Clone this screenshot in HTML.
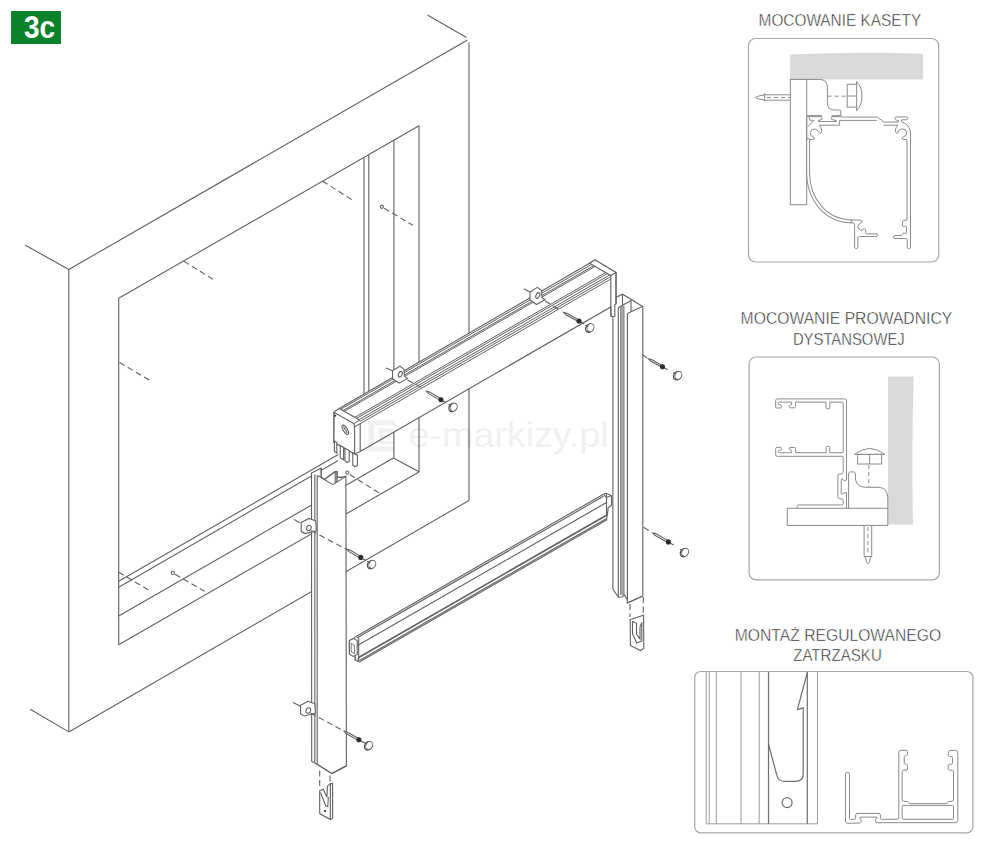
<!DOCTYPE html>
<html><head><meta charset="utf-8"><title>3c</title><style>
html,body{margin:0;padding:0;background:#fff;}
svg{display:block;}
.ln line,.ln polyline,.ln polygon,.ln path,.ln circle,.ln ellipse{stroke:#606060;stroke-width:1.1;fill:none;}
.ln .cap{fill:#fff;stroke:#444;stroke-width:1.2;}
.ln .cap2{fill:#fff;stroke:#5a5a5a;stroke-width:0.9;}
.ln .wf{fill:#fff;}
.ln .d{stroke-dasharray:6 3.5;}
.ln .blk{fill:#2a2a2a;stroke:#2a2a2a;}
.pn rect{fill:none;stroke:#a6a6a6;stroke-width:1.2;}
.pl rect,.pl path,.pl line{fill:none;stroke:#8a8a8a;stroke-width:1;}
.pl3 line{stroke:#9a9a9a;stroke-width:1;}
.pl3d line,.pl3d path,.pl3d circle{fill:none;stroke:#6e6e6e;stroke-width:1.2;}
.tt{font-family:"Liberation Sans",sans-serif;fill:#222;stroke:#fff;stroke-width:0.45px;}
</style></head>
<body><svg width="1000" height="865" viewBox="0 0 1000 865">
<g class="ln">
<line x1="427.5" y1="15.0" x2="466.5" y2="37.5"/>
<line x1="68.8" y1="269.5" x2="467.5" y2="40.0"/>
<line x1="25.0" y1="245.0" x2="68.8" y2="269.5"/>
<line x1="68.8" y1="269.5" x2="68.8" y2="732.0"/>
<line x1="30.2" y1="709.2" x2="68.8" y2="731.9"/>
<line x1="68.8" y1="731.9" x2="469.0" y2="500.4"/>
<line x1="469.0" y1="42.5" x2="469.0" y2="500.4"/>
<line x1="118.7" y1="298.3" x2="118.7" y2="644.7"/>
<line x1="118.7" y1="298.3" x2="419.0" y2="125.7"/>
<line x1="419.0" y1="125.7" x2="419.0" y2="472.0"/>
<line x1="118.7" y1="644.7" x2="419.0" y2="472.0"/>
<line x1="118.7" y1="581.3" x2="338.3" y2="454.5"/>
<line x1="118.7" y1="587.2" x2="338.3" y2="460.4"/>
<line x1="118.7" y1="616.0" x2="393.4" y2="458.0"/>
<line x1="393.4" y1="458.0" x2="419.0" y2="471.8"/>
<line x1="364.0" y1="157.7" x2="364.0" y2="400.0"/>
<line x1="368.8" y1="155.0" x2="368.8" y2="400.0"/>
<line x1="393.9" y1="140.3" x2="393.9" y2="458.0"/>
<line x1="183.8" y1="261.2" x2="215.0" y2="280.5" class="d"/>
<line x1="119.5" y1="362.5" x2="151.2" y2="381.2" class="d"/>
<line x1="322.5" y1="181.0" x2="353.8" y2="201.0" class="d"/>
<circle cx="381.8" cy="206.8" r="1.6" class="h"/>
<line x1="384.0" y1="208.2" x2="412.8" y2="225.2" class="d"/>
<line x1="118.7" y1="572.2" x2="150.6" y2="591.3" class="d"/>
<circle cx="172.8" cy="572.9" r="1.6" class="h"/>
<line x1="175.0" y1="574.2" x2="204.7" y2="591.3" class="d"/>
<circle cx="347.3" cy="472.6" r="1.6" class="h"/>
<line x1="349.7" y1="474.5" x2="378.8" y2="492.8" class="d"/>
<polygon points="612.9,317.0 612.9,302.0 616.2,297.2 622.5,294.2 642.8,306.5 642.8,596.0 627.4,603.0 627.4,600.0 624.6,595.0 621.8,597.0 618.4,597.2 612.9,589.1" class="wf"/>
<line x1="618.3" y1="307.8" x2="618.3" y2="597.2"/>
<rect x="620.4" y="306" width="3.8" height="289" fill="#a8a8a8" stroke="none"/>
<line x1="620.6" y1="306" x2="620.6" y2="595" style="stroke:#777;stroke-width:0.8"/><line x1="624.0" y1="306" x2="624.0" y2="595" style="stroke:#777;stroke-width:0.8"/>
<line x1="627.4" y1="313.5" x2="627.4" y2="603.0"/>
<line x1="618.2" y1="307.8" x2="631.5" y2="300.3"/>
<line x1="627.4" y1="313.5" x2="642.5" y2="306.5"/>
<line x1="631.0" y1="300.5" x2="631.0" y2="311.5"/>
<line x1="622.5" y1="294.2" x2="622.5" y2="305.0"/>
<line x1="627.4" y1="603.0" x2="642.8" y2="596.0"/>
<line x1="630.0" y1="604.0" x2="630.0" y2="617.0" class="d"/>
<line x1="643.3" y1="597.0" x2="643.3" y2="617.0" class="d"/>
<path d="M630.2,619.5 L643.6,615.2 L643.8,648.5 L640.5,650.5 L630.4,645.5 Z M632.5,621.5 L636.5,623.3 L636.5,634 L640,639 L640,627 L641.8,622.5 L641.8,641 L636.8,643 L632.5,634 Z" class="wf"/>
<polygon points="356.0,636.4 603.5,494.2 606.3,493.3 611.4,495.6 611.6,505.3 608.1,507.7 607.7,512.7 606.7,518.3 606.7,519.9 359.5,661.9 358.2,661.5 355.2,660.0 355.2,654.8 349.4,651.8 349.4,640.5 353.5,638.5" class="wf"/>
<line x1="356.8" y1="638.0" x2="603.5" y2="496.3"/>
<line x1="357.5" y1="645.5" x2="606.5" y2="502.5"/>
<line x1="358.7" y1="657.5" x2="606.5" y2="515.2" style="stroke-width:1.7"/>
<line x1="359.5" y1="660.4" x2="606.7" y2="518.4"/>
<line x1="603.5" y1="494.2" x2="606.5" y2="497.5"/>
<line x1="606.3" y1="493.3" x2="606.5" y2="497.5"/>
<line x1="606.5" y1="497.5" x2="606.5" y2="515.5"/>
<line x1="606.5" y1="497.5" x2="611.4" y2="495.6"/>
<line x1="358.7" y1="637.8" x2="358.7" y2="661.0"/>
<polygon points="349.4,640.5 353.5,638.5 357.2,640.6 357.2,654.5 353.3,656.5 349.4,654.3" class="wf"/>
<rect x="351.2" y="644" width="3.2" height="8.5" fill="none" stroke="#666" stroke-width="0.8" transform="skewY(30) translate(0,-203.5)"/>
<line x1="355.2" y1="656.5" x2="355.2" y2="660.5"/>
<line x1="358.2" y1="658.0" x2="358.2" y2="661.5"/>
<polygon points="333.9,412.1 339.2,408.5 589.6,263.2 594.9,259.9 616.0,272.5 616.0,303.9 614.8,304.6 614.8,316.5 611.2,316.5 610.8,306.9 359.8,451.8 354.3,453.9 333.9,442.2" class="wf"/>
<line x1="340.6" y1="409.3" x2="591.6" y2="264.4" style="stroke-width:1.0"/>
<line x1="342.8" y1="410.6" x2="593.8" y2="265.6" style="stroke-width:1.0"/>
<line x1="344.1" y1="411.4" x2="595.1" y2="266.4" style="stroke-width:1.0"/>
<line x1="354.7" y1="417.5" x2="605.7" y2="272.5" style="stroke-width:1.0"/>
<line x1="356.4" y1="418.5" x2="607.4" y2="273.5" style="stroke-width:1.0"/>
<line x1="358.8" y1="419.8" x2="609.8" y2="274.9" style="stroke-width:1.0"/>
<line x1="359.8" y1="421.5" x2="610.8" y2="276.6" style="stroke-width:1.0"/>
<line x1="359.8" y1="423.9" x2="610.8" y2="279.0" style="stroke-width:1.0"/>
<polygon points="589.6,263.2 594.9,259.9 616.0,272.5 610.8,275.5" class="wf"/>
<line x1="610.8" y1="275.5" x2="610.8" y2="316.5"/>
<line x1="616.0" y1="272.5" x2="616.0" y2="303.9"/>
<path d="M334.2,412.4 L353.9,423.6 L354.6,426.9 L354.6,453.9 L333.9,442.2 Z" class="wf"/>
<line x1="339.3" y1="408.4" x2="359.6" y2="420.1"/>
<line x1="353.9" y1="423.6" x2="359.6" y2="420.1"/>
<line x1="354.6" y1="426.9" x2="360.2" y2="423.6"/>
<line x1="360.2" y1="423.6" x2="360.2" y2="451.6"/>
<ellipse cx="345.3" cy="429.8" rx="2.1" ry="5.2" transform="rotate(-30 345.3 429.8)"/>
<line x1="343.5" y1="426.5" x2="347.2" y2="433.0"/>
<circle cx="335.3" cy="415.7" r="0.4" class="blk"/>
<polygon points="334.4,441.0 336.8,442.5 336.8,453.0 334.4,451.5" class="wf"/>
<polygon points="340.3,445.5 343.6,447.4 343.6,459.8 340.3,458.0" class="wf"/>
<polygon points="344.9,448.2 349.2,450.7 349.2,461.5 347.0,462.3 344.9,460.8" class="wf"/>
<polygon points="352.8,453.0 357.4,455.4 357.4,465.5 355.0,466.8 352.8,465.2" class="wf"/>
<line x1="386.0" y1="368.0" x2="392.5" y2="370.7"/>
<polygon points="392.5,370.7 399.9,366.1 404.0,369.3 404.5,376.3 407.5,378.4 399.0,383.2 392.5,378.6" class="wf"/>
<ellipse cx="400.3" cy="374.2" rx="1.8" ry="3.0" transform="rotate(25 400.3 374.2)"/>
<line x1="407.5" y1="380.0" x2="422.5" y2="387.8" class="d"/>
<line x1="523.8" y1="288.8" x2="530.0" y2="292.0"/>
<polygon points="530.0,292.0 537.4,287.4 541.5,290.6 542.0,297.6 545.0,299.7 536.5,304.5 530.0,299.9" class="wf"/>
<ellipse cx="537.8" cy="295.5" rx="1.8" ry="3.0" transform="rotate(25 537.8 295.5)"/>
<line x1="545.0" y1="301.0" x2="561.0" y2="310.5" class="d"/>
<polygon points="311.5,473.0 321.2,468.2 321.2,477.0 324.5,479.4 335.3,471.5 337.2,471.5 337.2,477.3 341.4,477.4 345.9,476.2 346.4,765.8 332.0,773.6 316.8,764.1 311.7,761.5" class="wf"/>
<line x1="314.8" y1="474.2" x2="314.8" y2="762.8"/>
<line x1="317.2" y1="475.3" x2="317.2" y2="764.0"/>
<line x1="317.5" y1="475.5" x2="332.9" y2="484.6"/>
<line x1="332.9" y1="484.6" x2="345.9" y2="476.4"/>
<line x1="321.2" y1="468.2" x2="321.2" y2="477.0"/>
<line x1="324.5" y1="479.4" x2="335.3" y2="471.5"/>
<polygon points="335.2,471.6 337.2,471.6 337.2,481.8 335.2,483" style="fill:#9a9a9a;stroke:#606060;stroke-width:0.8"/>
<line x1="337.2" y1="477.3" x2="341.4" y2="477.4"/>
<line x1="316.8" y1="764.1" x2="332.0" y2="773.6"/>
<line x1="332.0" y1="773.6" x2="346.4" y2="765.8"/>
<line x1="294.0" y1="519.4" x2="299.6" y2="522.8"/>
<polygon points="301.2,522.4 308.8,518.4 315.6,520.8 316.4,530.8 305.2,533.6 301.2,531.6" class="wf"/>
<ellipse cx="308.8" cy="528.0" rx="2.2" ry="2.8" transform="rotate(25 308.8 528)"/>
<line x1="311.0" y1="530.5" x2="346.6" y2="549.4" class="d"/>
<polygon points="346.9,549.3 349.0,551.6 360.3,558.2 361.3,556.6 349.9,550.0" class="wf"/>
<circle cx="360.8" cy="557.4" r="2.0" class="blk"/>
<line x1="362.5" y1="558.4" x2="366.0" y2="560.4"/>
<line x1="367.1" y1="561.3" x2="369.7" y2="562.8"/>
<ellipse cx="371.2" cy="564.6" rx="3.5" ry="4.4" class="cap" transform="rotate(28 371.2 564.6)"/>
<ellipse cx="372.3" cy="564.3" rx="3.3" ry="4.2" class="cap2" transform="rotate(28 372.3 564.3)"/>
<line x1="293.0" y1="702.5" x2="300.0" y2="706.0"/>
<polygon points="300.5,705.3 308.0,701.3 314.8,703.7 315.5,713.2 304.5,716.0 300.5,714.0" class="wf"/>
<ellipse cx="308.3" cy="710.5" rx="2.2" ry="2.8" transform="rotate(25 308.3 710.5)"/>
<line x1="310.5" y1="713.0" x2="344.2" y2="731.2" class="d"/>
<polygon points="344.2,731.2 346.3,733.5 358.4,740.6 359.4,739.0 347.2,731.9" class="wf"/>
<circle cx="358.9" cy="739.8" r="2.0" class="blk"/>
<line x1="360.6" y1="740.8" x2="364.1" y2="742.8"/>
<line x1="364.1" y1="742.5" x2="366.7" y2="744.0"/>
<ellipse cx="368.2" cy="745.8" rx="3.5" ry="4.4" class="cap" transform="rotate(28 368.2 745.8)"/>
<ellipse cx="369.3" cy="745.5" rx="3.3" ry="4.2" class="cap2" transform="rotate(28 369.3 745.5)"/>
<line x1="319.7" y1="770.5" x2="319.7" y2="786.0" class="d"/>
<line x1="330.1" y1="775.4" x2="330.1" y2="782.0" class="d"/>
<path d="M319.7,790.8 L323.2,789.3 L326.9,797.2 L327.5,786.2 L330.4,783.6 L332.6,783.4 L332.6,818.2 L330.3,819.6 L319.7,813.6 Z" class="wf"/>
<line x1="330.4" y1="783.6" x2="330.3" y2="819.6"/>
<path d="M320.6,792.5 L325.8,806 L327.8,806.6 L328.3,797" class="none"/>
<circle cx="325.0" cy="811.0" r="0.5" class="blk"/>
<polygon points="426.5,391.3 428.6,393.6 440.5,400.6 441.5,399.0 429.5,392.0" class="wf"/>
<circle cx="441.0" cy="399.8" r="2.0" class="blk"/>
<line x1="442.7" y1="400.8" x2="446.2" y2="402.8"/>
<line x1="448.5" y1="404.2" x2="451.1" y2="405.7"/>
<ellipse cx="452.6" cy="407.5" rx="3.5" ry="4.4" class="cap" transform="rotate(28 452.6 407.5)"/>
<ellipse cx="453.7" cy="407.2" rx="3.3" ry="4.2" class="cap2" transform="rotate(28 453.7 407.2)"/>
<polygon points="563.8,312.5 566.0,314.7 578.6,321.8 579.4,320.2 566.9,313.2" class="wf"/>
<circle cx="579.0" cy="321.0" r="2.0" class="blk"/>
<line x1="580.7" y1="322.0" x2="584.2" y2="323.9"/>
<line x1="585.3" y1="324.9" x2="587.9" y2="326.3"/>
<ellipse cx="589.4" cy="328.1" rx="3.5" ry="4.4" class="cap" transform="rotate(28 589.4 328.1)"/>
<ellipse cx="590.5" cy="327.8" rx="3.3" ry="4.2" class="cap2" transform="rotate(28 590.5 327.8)"/>
<line x1="642.8" y1="355.0" x2="646.8" y2="357.8" class="d"/>
<polygon points="648.5,358.8 650.7,361.1 662.1,367.6 662.9,366.0 651.6,359.5" class="wf"/>
<circle cx="662.5" cy="366.8" r="2.0" class="blk"/>
<line x1="664.2" y1="367.8" x2="667.7" y2="369.8"/>
<line x1="673.2" y1="372.4" x2="675.8" y2="373.9"/>
<ellipse cx="677.3" cy="375.7" rx="3.5" ry="4.4" class="cap" transform="rotate(28 677.3 375.7)"/>
<ellipse cx="678.4" cy="375.4" rx="3.3" ry="4.2" class="cap2" transform="rotate(28 678.4 375.4)"/>
<line x1="643.5" y1="527.3" x2="651.1" y2="531.9" class="d"/>
<polygon points="652.8,532.9 654.9,535.2 668.0,542.7 668.8,541.1 655.8,533.6" class="wf"/>
<circle cx="668.4" cy="541.9" r="2.0" class="blk"/>
<line x1="670.1" y1="542.9" x2="673.6" y2="544.9"/>
<line x1="679.9" y1="549.3" x2="682.5" y2="550.8"/>
<ellipse cx="684.0" cy="552.6" rx="3.5" ry="4.4" class="cap" transform="rotate(28 684.0 552.6)"/>
<ellipse cx="685.1" cy="552.3" rx="3.3" ry="4.2" class="cap2" transform="rotate(28 685.1 552.3)"/>
</g>
<g class="pn">
<rect x="748.5" y="38.5" width="190.2" height="223.5" rx="7"/>
<rect x="749.1" y="357" width="190.3" height="222.8" rx="7"/>
<rect x="694.7" y="671.5" width="278.2" height="161.3" rx="6"/>
</g>
<path d="M790.2,54.5 Q856,51.6 923,53.8 L923,79.4 L790.2,79.4 Z" fill="#d9d9d9" stroke="none"/>
<g class="pl">
<rect x="790.4" y="79.4" width="16.3" height="125.3"/>
<path d="M806.7,79.4 L819.3,79.4 Q827.4,79.4 827.4,87.7 L827.4,103 Q827.4,110 834.5,110 L839.6,110 Q840.8,110 840.8,111.5 L840.8,115.5"/>
<path d="M790.4,94.8 L766,94.8 L764.3,93.8 L764.3,95 Q758,95.6 755.3,97.5 Q758,99.4 764.3,100 L764.3,101 L766,100.2 L790.4,100.2"/>
<line x1="764.6" y1="94.2" x2="764.6" y2="100.8"/>
<line x1="767" y1="97.5" x2="790" y2="97.5" stroke-dasharray="4,3"/>
<line x1="827.6" y1="96.2" x2="847" y2="96.2" stroke-dasharray="4,3"/>
<rect x="847.2" y="84.3" width="9.4" height="22.8"/><line x1="847.2" y1="96" x2="856.6" y2="96"/>
<path d="M856.6,84.3 L856.6,81.5 Q862.5,88 861.8,96 Q862.5,104 856.6,110.6 L856.6,107.1"/>
</g>
<path d="M808.1,140 L808.1,172 C808.1,200 826,220.6 850.5,221.35" fill="none" stroke="#8c8c8c" stroke-width="3.9" stroke-linejoin="round" stroke-linecap="round"/>
<path d="M808.1,140 L808.1,172 C808.1,200 826,220.6 850.5,221.35" fill="none" stroke="#fff" stroke-width="1.9" stroke-linejoin="round" stroke-linecap="round"/>
<g class="pl">
<line x1="806.7" y1="116.1" x2="822" y2="116.1" style="stroke:#9a9a9a;stroke-width:2.2"/>
<line x1="831.5" y1="116.1" x2="841.5" y2="116.1" style="stroke:#9a9a9a;stroke-width:2.2"/>
<path d="M841.5,117.1 L877.6,117.1 L879.2,118.6 L882.4,120.6 L883.2,122.1 L898.4,122.1 L898.4,120.4 L896.2,120.2 Q895,119.8 895,118.4 Q895.1,117 896.6,116.9 L906.6,116.9 Q907.8,117.1 907.8,118.3 Q907.8,119.6 906.5,119.7 L901.2,119.9 L901.2,121.7 Q910.5,124.5 910.5,134 L910.5,141"/>
<path d="M839.6,120.4 L876.8,120.4 M883.6,125.2 L898,125.2 Q896,127 895.4,129.5 Q895,132.8 897.1,133.5 Q898.6,133.2 898.5,130.4 Q901.5,127.6 905.5,129.8 Q907.6,132.8 906,135.4 Q903.6,136.6 902.2,137.6 Q901.8,139.5 904,139.6 L907,139.6 L907,141"/>
<path d="M839.6,120.4 L839.6,125.2 L819.2,125.2 Q821.6,127.5 821.8,131 Q821.2,133.8 819.8,133.5 Q818.6,132.6 818.6,131.2 Q815.5,127.8 811.6,129.6 Q809.6,132.5 810.8,135.4 Q813.4,136.8 814.4,137.6 Q814.7,139.5 812.6,139.6 L809.6,139.6 L809.6,141"/>
<path d="M806.7,117.2 L806.7,141 M809.2,117.3 L809.5,120 L813.8,120.5 L807.6,127"/>
<path d="M850,219.9 L860.5,220.2 Q862.5,220.6 862,222.2 Q858.5,223.6 857.9,226.6 Q858.3,229.6 860.8,230.3 Q863,230 864.2,228.6 Q866.3,228.8 865.8,231 Q865,232.8 866.5,233.9 L877,233.9 Q878.2,235.2 877,236.5 L859.4,236.5 Q857.8,236.9 857.8,238.5 L857.8,247.8 Q856.2,249.4 854.6,247.8 L854.6,224.5 Q854.4,222.8 852.8,222.8 L850,222.8"/>
<path d="M907,141 L907,220.2 L903.5,220.2 Q902.4,220.6 902.5,222 L902.6,225.6 Q903,226.8 904.2,226.6 Q905.6,225 906.4,226.5 L906.4,233 Q906.1,234.3 905.4,234 L904.2,232.6 Q903,233 902.8,234.4 L902,235.4 L894.4,235.6 Q892.5,237 894.2,238.5 L906.4,238.6 Q907.2,238.8 907.2,239.8 L907.2,247.8 Q908.8,249.4 910.5,247.8 L910.5,141"/>
<path d="M822,117.2 L822,119.4 L818.3,120.6 L818.3,121.5 L836.3,121.5 L836.3,120.6 L831.6,119.4 L831.6,117.2"/>
</g>
<path d="M888,376.4 L913.6,376.4 Q911.5,450 913,524.4 L888,524.4 Z" fill="#d9d9d9" stroke="none"/>
<g class="pl">
<path d="M775.7,407.4 L775.7,400.3 Q775.7,398.9 777.2,398.9 L844.6,398.9 Q846.5,398.9 846.5,400.8 L846.5,480 L845,480.6 Q843.4,480.6 843,479.4 Q841.6,477.6 841.3,479.5 L841.2,493.8 Q841.6,495 842.5,493.6 Q843.6,492.6 846.5,492.6 L846.5,508.3"/>
<path d="M781.3,407.2 L781.3,405.6 Q781.2,404.8 780.3,404.8 L778.9,404.8 Q778.1,404.6 778.1,403.6 L778.1,403.2 Q778.2,402.1 779.4,402.1 L791.6,402.1 L791.6,404.4 Q791.4,405.2 790.4,405.2 Q789,405.4 789,406.6 Q789.2,407.8 790.4,407.8 L794.6,407.8 Q795.6,407.6 795.6,406.4 L795.6,402.1 L826,402.1 L826,407.8 Q826.2,409 827.9,409 Q829.6,409 829.8,407.8 L829.8,402.1 L842,402.1 Q843.2,402.1 843.2,403.3 L843.2,451.5 Q843.2,452.7 842,452.7 L829.8,452.7 L829.8,447.5 Q829.6,446.2 827.9,446.2 Q826.2,446.2 826,447.5 L826,452.7 L795.6,452.7 L795.6,448.6 Q795.6,447.5 794.6,447.5 L790.4,447.5 Q789,447.6 789,448.8 Q789.2,449.9 790.4,450 Q791.6,450.1 791.6,451.2 L791.6,452.7 L779.6,452.7 Q778.1,452.6 778.1,451.4 Q778.2,450.4 779.2,450.4 L780.4,450.4 Q781.3,450.2 781.3,449.2 L781.3,448.2 Q781.2,447.3 780.2,447.3 L777,447.3 Q775.7,447.4 775.7,448.8 L775.7,454.8 Q775.7,456.3 777.2,456.3 L842,456.3 Q843.2,456.4 843.2,457.6 L843.2,472.2 Q843,473.8 841.4,473.9 L839.2,474 Q837.9,474.2 837.9,475.6 L837.9,497.2 Q838,498.6 839.4,498.7 L842,498.9 Q843.2,499.1 843.2,500.4 L843.2,503.4 Q843.2,504.9 841.8,505 L798.4,505 Q797.2,505.2 797.2,506.4 L797.2,508.3"/>
<path d="M775.7,407.4 Q775.8,408 776.6,408 L780.6,408 Q781.3,407.9 781.3,407.2"/>
<path d="M848.6,508.3 L848.6,473.5 Q848.6,471.9 850.2,471.9 L853.6,471.9 Q855.3,472 855.4,474 L855.6,480 Q857.5,487.3 866,487.3 L879,487.3 Q887.8,488 887.8,498 L887.8,508.3"/>
<rect x="787.3" y="508.3" width="100.5" height="17.1"/>
<path d="M864.1,525.4 L864.1,556.5 L865.8,558 L866.5,562.5 L867.9,563.8 L869.3,562.5 L870,558 L871.7,556.5 L871.7,525.4"/>
<line x1="864.1" y1="556.5" x2="871.7" y2="556.5"/>
<line x1="867.9" y1="527" x2="867.9" y2="555" stroke-dasharray="4,3"/>
<path d="M854.4,454.4 Q869.6,442.5 884.8,454.4 Z"/>
<rect x="857.6" y="454.4" width="24" height="9.6"/><line x1="869.6" y1="454.4" x2="869.6" y2="464"/>
<line x1="868.8" y1="465" x2="868.8" y2="487" stroke-dasharray="4,3"/>
</g>
<g class="pl3">
<line x1="706.2" y1="672" x2="706.2" y2="823.8"/>
<line x1="709.2" y1="672" x2="709.2" y2="823.8"/>
<line x1="716.3" y1="672" x2="716.3" y2="823.8"/>
<line x1="741" y1="672" x2="741" y2="823.8"/>
<line x1="759.2" y1="672" x2="759.2" y2="823.8"/>
<line x1="817.5" y1="672" x2="817.5" y2="823.8"/>
<line x1="706.2" y1="823.8" x2="817.5" y2="823.8"/>
</g><g class="pl3d">
<line x1="768.5" y1="672" x2="768.5" y2="823.8"/><line x1="807.3" y1="672" x2="807.3" y2="823.8"/>
<path d="M807.3,672.5 L797.4,709.6 L803.2,707.9 L803.2,774.2 Q803.2,781.3 795,781.3 L784.2,781.3 Q778,781.3 776.6,774.5 L768.5,744"/>
<circle cx="787.1" cy="802.6" r="5"/>
</g>
<g class="pl">
<path d="M845.5,774.3 Q845.5,772.3 847.5,772.3 Q849.5,772.3 849.5,774.3 L849.5,818.3 Q849.5,819.3 850.5,819.3 L854.6,819.3 Q855.5,819.2 855.6,818.2 L855.7,814.6 Q855.8,813.4 857,813.4 L879,813.4 Q880.2,813.5 880.3,814.6 L880.4,818.2 Q880.6,819.3 881.6,819.3 L897.6,819.3 Q898.8,819.2 898.8,818 L898.8,752.3 Q898.8,750.3 900.8,750.3 L906.5,750.3 Q907.5,750.5 907.5,751.5 L907.5,754.5 Q907.4,755.5 906.4,755.5 L905.4,755.6 Q904.2,756 904.2,757.4 L904.2,763.2 Q904.3,764.2 905.5,764.2 L906.5,764.2 Q907.5,764.4 907.5,765.4 L907.5,769 Q907.4,770.1 906.4,770.1 L903.3,770.2 Q902.2,770.4 902.2,771.6 L902.2,800.2 Q902.4,801.2 903.6,801.2 L907.5,801.6 Q909.4,802.4 909.4,803.6 L946.8,803.6 Q947.3,802.2 948.6,801.6 L952.4,801.2 Q953.5,801 953.5,799.8 L953.5,771.8 Q953.4,770.4 952.2,770.3 L949.3,770.1 Q948.2,770 948.2,769 L948.2,765.6 Q948.3,764.4 949.4,764.3 L951.4,764.2 Q952.5,764 952.5,762.9 L952.5,757.6 Q952.4,756.5 951.3,756.5 L949.3,756.4 Q948.2,756.2 948.2,755.2 L948.3,752 Q948.5,750.8 949.6,750.5 L955.8,750.3 Q957.8,750.3 957.8,752.3 L957.8,820.7 Q957.8,822.7 955.8,822.7 L877.4,822.7 Q875.5,822.4 875.4,820.9 Q875.3,819.8 876.3,819 Q877.2,818.2 877,817.1 L860,817.1 Q859.4,818 860.3,818.9 Q861.5,819.8 861.3,821.2 Q861,822.7 859.5,823 L847.5,823.3 Q845.5,823.3 845.5,821.3 Z"/>
<path d="M903.2,805.4 L952.5,805.4 Q953.5,805.4 953.5,806.4 L953.5,818.3 Q953.5,819.3 952.5,819.3 L903.2,819.3 Q902.2,819.3 902.2,818.3 L902.2,806.4 Q902.2,805.4 903.2,805.4 Z"/>
</g>
<rect x="11" y="11" width="50" height="33" fill="#0a822b"/>
<text x="23.9" y="38.1" font-family="Liberation Sans" font-weight="bold" font-size="31.8" fill="#fff" textLength="31.2" lengthAdjust="spacingAndGlyphs">3c</text>
<text x="758.6" y="26.1" class="tt" font-size="16.6" textLength="162.6" lengthAdjust="spacingAndGlyphs">MOCOWANIE KASETY</text>
<text x="740.6" y="324.2" class="tt" font-size="16.6" textLength="211.6" lengthAdjust="spacingAndGlyphs">MOCOWANIE PROWADNICY</text>
<text x="792.9" y="345.0" class="tt" font-size="16.6" textLength="111.8" lengthAdjust="spacingAndGlyphs">DYSTANSOWEJ</text>
<text x="734.8" y="640.6" class="tt" font-size="16.6" textLength="206.4" lengthAdjust="spacingAndGlyphs">MONTAŻ REGULOWANEGO</text>
<text x="793.2" y="661.2" class="tt" font-size="16.6" textLength="88.6" lengthAdjust="spacingAndGlyphs">ZATRZASKU</text>
<g opacity="0.055"><text x="408.6" y="447.4" font-family="Liberation Sans" font-size="35" fill="#000" textLength="200" lengthAdjust="spacingAndGlyphs">e-markizy.pl</text><path d="M368.6,420.2 H395 V425 H374 V446.6 H395 V451.4 H368.6 Z M379,428.5 H393 V432.5 H383 V435 H391 V438.5 H383 V441 H393 V444.5 H379 Z" fill="#000"/></g>
</svg></body></html>
